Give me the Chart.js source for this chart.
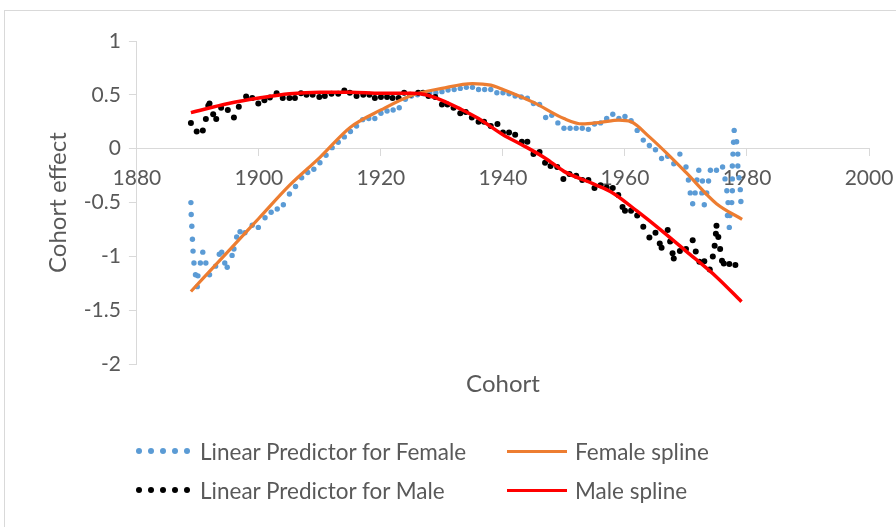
<!DOCTYPE html>
<html>
<head>
<meta charset="utf-8">
<title>Cohort effect</title>
<script src="https://cdn.jsdelivr.net/npm/chart.js@4.4.1/dist/chart.umd.min.js"></script>
<style>
    body { margin: 0; background: #fff; font-family: Lato, sans-serif; }
    #wrap { position: relative; width: 896px; height: 527px; overflow: hidden; }
    #frame { position: absolute; left: 4px; top: 10px; width: 1000px; height: 1000px; border: 1px solid #d9d9d9; }
    #chart { position: absolute; left: 0; top: 0; }
    #legend { position: absolute; left: 136px; top: 436px; display: grid; grid-template-columns: 371px 300px; row-gap: 9px; color: #595959; font-size: 22.5px; }
    .item { display: flex; align-items: center; height: 30px; white-space: nowrap; }
    .dots { width: 54px; display: flex; justify-content: space-between; margin-right: 10px; }
    .dots span { width: 6px; height: 6px; border-radius: 50%; }
    .line { width: 60px; height: 3px; margin-right: 8px; }
</style>
</head>
<body>
<div id="wrap">
    <div id="frame"></div>
    <canvas id="chart" width="896" height="527"></canvas>
    <div id="legend"></div>
</div>
<script>
    // linear predictor, female
    const femaleCohort = [
        1888.85, 1888.9, 1889.0, 1889.1, 1889.2, 1889.35, 1889.6, 1890.0, 1889.9, 1890.4,
        1890.8, 1891.3, 1891.9, 1892.9, 1893.5, 1893.9, 1894.4, 1894.8, 1895.6, 1895.9,
        1896.35, 1896.9, 1897.7, 1898.9, 1899.9, 1901, 1902, 1903, 1904, 1905,
        1906, 1907, 1908, 1909, 1910, 1911, 1912, 1913, 1914, 1915,
        1916, 1917, 1918, 1919, 1920, 1921, 1922, 1923, 1924, 1925,
        1926, 1927, 1928, 1929, 1930, 1931, 1932, 1933, 1934, 1935,
        1936, 1937, 1938, 1939, 1940, 1941, 1942, 1943, 1944, 1945,
        1946, 1947, 1948, 1949, 1950, 1951, 1952, 1953, 1954, 1955,
        1956, 1957, 1958, 1959, 1960, 1961, 1962, 1963, 1964, 1965,
        1966, 1967, 1968, 1969, 1970, 1970.4, 1970.7, 1971.1, 1971.5, 1971.8,
        1972.1, 1972.6, 1972.7, 1973.0, 1973.4, 1973.7, 1974.0, 1975, 1976, 1976.4,
        1976.7, 1976.9, 1976.8, 1977.1, 1977.2, 1977.5, 1977.6, 1977.6, 1977.6, 1977.7,
        1977.8, 1977.9, 1978.3, 1978.5, 1978.5, 1978.7, 1978.9, 1979.0
    ]
    const femaleEffect = [
        -0.50, -0.61, -0.72, -0.84, -0.95, -1.06, -1.17, -1.18, -1.28, -1.06,
        -0.96, -1.06, -1.17, -1.09, -0.98, -0.96, -1.06, -1.10, -0.99, -0.93,
        -0.82, -0.77, -0.78, -0.71, -0.73, -0.64, -0.59, -0.56, -0.52, -0.42,
        -0.35, -0.27, -0.22, -0.19, -0.13, -0.06, 0.01, 0.06, 0.11, 0.16,
        0.21, 0.27, 0.28, 0.28, 0.33, 0.35, 0.36, 0.38, 0.46, 0.49,
        0.50, 0.51, 0.52, 0.52, 0.53, 0.545, 0.55, 0.56, 0.57, 0.57,
        0.55, 0.55, 0.55, 0.52, 0.52, 0.51, 0.49, 0.48, 0.47, 0.42,
        0.41, 0.29, 0.31, 0.24, 0.19, 0.19, 0.19, 0.19, 0.18, 0.23,
        0.24, 0.28, 0.32, 0.28, 0.30, 0.26, 0.17, 0.08, 0.03, -0.01,
        -0.09, -0.07, -0.14, -0.05, -0.17, -0.29, -0.41, -0.51, -0.41, -0.29,
        -0.20, -0.41, -0.30, -0.52, -0.41, -0.30, -0.20, -0.20, -0.17, -0.28,
        -0.39, -0.50, -0.62, -0.73, -0.62, -0.50, -0.39, -0.28, -0.16, -0.05,
        0.06, 0.17, 0.065, -0.05, -0.16, -0.27, -0.38, -0.49
    ]

    // linear predictor, male
    const maleCohort = [
        1888.85, 1889.8, 1890.8, 1891.3, 1891.7, 1891.9, 1892.5, 1893.0, 1893.8, 1894.9,
        1895.9, 1896.7, 1897.9, 1898.9, 1899.9, 1900.9, 1901.8, 1902.9, 1903.9, 1905.0,
        1905.9, 1906.9, 1907.8, 1908.8, 1909.9, 1910.8, 1911.9, 1913.0, 1914.0, 1914.9,
        1916.0, 1917.1, 1918.1, 1919.0, 1920.0, 1921.0, 1921.9, 1922.9, 1923.8, 1924.8,
        1926.1, 1926.9, 1927.8, 1928.9, 1930.0, 1930.9, 1931.9, 1933.0, 1933.9, 1934.9,
        1936.0, 1936.9, 1938.0, 1939.1, 1940.0, 1941.0, 1942.0, 1943.1, 1944.0, 1945.0,
        1946.0, 1946.9, 1947.8, 1948.9, 1949.9, 1950.9, 1952.0, 1953.0, 1954.0, 1955.0,
        1956.0, 1957.0, 1958.0, 1958.9, 1959.6, 1960.0, 1961.0, 1962.0, 1963.0, 1964.0,
        1965.0, 1965.7, 1966.0, 1967.0, 1967.4, 1967.8, 1968.0, 1969.0, 1970.0, 1971.1,
        1971.6, 1972.2, 1973.0, 1973.9, 1974.4, 1974.7, 1974.9, 1975.0, 1975.3, 1975.6,
        1975.9, 1976.2, 1977.1, 1978.1
    ]
    const maleEffect = [
        0.24, 0.16, 0.17, 0.275, 0.40, 0.42, 0.32, 0.275, 0.38, 0.36,
        0.29, 0.39, 0.485, 0.47, 0.42, 0.45, 0.475, 0.515, 0.47, 0.47,
        0.47, 0.515, 0.50, 0.50, 0.48, 0.49, 0.51, 0.51, 0.54, 0.52,
        0.49, 0.50, 0.50, 0.47, 0.48, 0.48, 0.47, 0.47, 0.52, 0.50,
        0.52, 0.52, 0.49, 0.48, 0.41, 0.41, 0.38, 0.33, 0.34, 0.29,
        0.25, 0.25, 0.21, 0.23, 0.15, 0.15, 0.13, 0.065, 0.065, -0.05,
        -0.03, -0.13, -0.16, -0.17, -0.28, -0.235, -0.25, -0.29, -0.29, -0.365,
        -0.34, -0.36, -0.365, -0.43, -0.54, -0.575, -0.575, -0.62, -0.725, -0.825,
        -0.78, -0.88, -0.92, -0.755, -0.86, -0.97, -1.02, -0.95, -0.93, -0.85,
        -0.955, -1.05, -1.045, -1.12, -1.00, -0.90, -0.79, -0.715, -0.82, -0.93,
        -1.04, -1.065, -1.07, -1.08
    ]

    // fitted splines
    const femaleSplineCohort = [1888.85, 1895, 1900, 1905, 1910, 1915, 1920, 1925, 1930, 1935, 1938, 1940, 1945, 1950, 1953, 1956, 1959, 1961, 1964, 1967, 1970, 1975, 1979.2]
    const femaleSplineEffect = [-1.325, -0.95, -0.645, -0.34, -0.08, 0.20, 0.36, 0.495, 0.56, 0.605, 0.59, 0.55, 0.43, 0.28, 0.23, 0.245, 0.265, 0.25, 0.11, -0.05, -0.22, -0.51, -0.655]
    const maleSplineCohort = [1888.85, 1895, 1900, 1905, 1910, 1915, 1920, 1925, 1927, 1930, 1933, 1936, 1940, 1943, 1947, 1950, 1955, 1958, 1962, 1966, 1970, 1975, 1979.1]
    const maleSplineEffect = [0.335, 0.42, 0.47, 0.51, 0.525, 0.525, 0.515, 0.515, 0.505, 0.45, 0.37, 0.28, 0.13, 0.04, -0.09, -0.21, -0.33, -0.41, -0.58, -0.76, -0.95, -1.19, -1.42]

    const xTicks = [1880, 1900, 1920, 1940, 1960, 1980, 2000]
    const yTicks = [-2, -1.5, -1, -0.5, 0, 0.5, 1]

    const textColor = '#595959'
    const axisColor = '#d9d9d9'
    const fontFamily = 'Lato, sans-serif'

    const toPoints = (xs, ys) => xs.map((x, i) => ({ x, y: ys[i] }))

    const chart = new Chart('chart', {
        type: 'scatter',
        data: {
            datasets: [
                {
                    label: 'Linear Predictor for Female',
                    data: toPoints(femaleCohort, femaleEffect),
                    backgroundColor: '#5b9bd5',
                    borderColor: '#5b9bd5',
                    pointRadius: 2.7,
                    pointBorderWidth: 0,
                    order: 3,
                },
                {
                    label: 'Female spline',
                    data: toPoints(femaleSplineCohort, femaleSplineEffect),
                    showLine: true,
                    borderColor: '#ed7d31',
                    backgroundColor: '#ed7d31',
                    borderWidth: 3.2,
                    pointRadius: 0,
                    cubicInterpolationMode: 'monotone',
                    order: 1,
                },
                {
                    label: 'Linear Predictor for Male',
                    data: toPoints(maleCohort, maleEffect),
                    backgroundColor: '#000000',
                    borderColor: '#000000',
                    pointRadius: 3,
                    pointBorderWidth: 0,
                    order: 2,
                },
                {
                    label: 'Male spline',
                    data: toPoints(maleSplineCohort, maleSplineEffect),
                    showLine: true,
                    borderColor: '#ff0000',
                    backgroundColor: '#ff0000',
                    borderWidth: 3.5,
                    pointRadius: 0,
                    cubicInterpolationMode: 'monotone',
                    order: 0,
                },
            ],
        },
        options: {
            responsive: false,
            animation: false,
            layout: { padding: { left: 40, right: 27, top: 41, bottom: 124 } },
            plugins: { legend: { display: false }, tooltip: { enabled: false } },
            scales: {
                x: {
                    type: 'linear',
                    position: 'bottom',
                    min: xTicks[0],
                    max: xTicks[xTicks.length - 1],
                    grid: { display: false, drawTicks: false },
                    border: { display: false },
                    ticks: { display: false },
                    afterFit: s => { s.paddingLeft = 0; s.paddingRight = 0 },
                    title: {
                        display: true,
                        text: 'Cohort',
                        color: textColor,
                        font: { family: fontFamily, size: 24 },
                        padding: { top: 6, bottom: 4 },
                    },
                },
                xZero: {
                    type: 'linear',
                    axis: 'x',
                    position: { y: 0 },
                    min: xTicks[0],
                    max: xTicks[xTicks.length - 1],
                    afterBuildTicks: s => { s.ticks = xTicks.map(v => ({ value: v })) },
                    // labels at the ends may overhang, as in the original
                    afterFit: s => { s.paddingLeft = 0; s.paddingRight = 0 },
                    ticks: {
                        color: textColor,
                        font: { family: fontFamily, size: 21 },
                        padding: 10,
                        maxRotation: 0,
                        autoSkip: false,
                        callback: v => String(v),
                    },
                    grid: { drawOnChartArea: false, tickLength: 7, color: axisColor },
                    border: { color: axisColor, width: 1 },
                },
                y: {
                    type: 'linear',
                    min: yTicks[0],
                    max: yTicks[yTicks.length - 1],
                    afterBuildTicks: s => { s.ticks = yTicks.map(v => ({ value: v })) },
                    ticks: {
                        color: textColor,
                        font: { family: fontFamily, size: 21 },
                        padding: 8,
                        callback: v => String(v),
                    },
                    grid: { drawOnChartArea: false, tickLength: 8, color: axisColor },
                    border: { color: axisColor, width: 1 },
                    title: {
                        display: true,
                        text: 'Cohort effect',
                        color: textColor,
                        font: { family: fontFamily, size: 24 },
                        padding: { top: 4, bottom: 3 },
                    },
                },
            },
        },
    })

    // two column legend built from the datasets
    const legend = document.getElementById('legend')
    const order = [0, 1, 2, 3]
    order.forEach(i => {
        const ds = chart.data.datasets[i]
        const item = document.createElement('div')
        item.className = 'item'
        let mark
        if (ds.showLine) {
            mark = document.createElement('div')
            mark.className = 'line'
            mark.style.background = ds.borderColor
        } else {
            mark = document.createElement('div')
            mark.className = 'dots'
            for (let k = 0; k < 5; k++) {
                const d = document.createElement('span')
                d.style.background = ds.backgroundColor
                mark.appendChild(d)
            }
        }
        const label = document.createElement('span')
        label.textContent = ds.label
        item.appendChild(mark)
        item.appendChild(label)
        legend.appendChild(item)
    })
</script>
</body>
</html>
